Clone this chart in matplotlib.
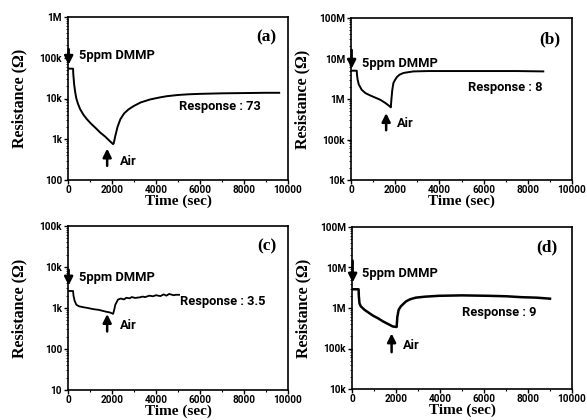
import matplotlib
matplotlib.use("Agg")
import matplotlib.pyplot as plt
from matplotlib.ticker import FixedLocator, FixedFormatter, MultipleLocator, LogLocator, NullFormatter

# ---------------- data ----------------
t_a = [0, 230, 240, 280, 330, 380, 450, 550, 700, 860, 1050, 1250, 1470, 1700, 1900, 2050,
       2080, 2150, 2250, 2380, 2550, 2750, 2980, 3300, 3740, 4200, 4500, 5000, 5500, 6000,
       7000, 8000, 9000, 9600]
r_a = [54e3, 54e3, 40e3, 22e3, 14e3, 10e3, 7.5e3, 5.5e3, 4.0e3, 3.1e3, 2.4e3, 1.9e3, 1.45e3,
       1.15e3, 900, 760, 800, 1.2e3, 2.0e3, 3.1e3, 4.3e3, 5.4e3, 6.5e3, 8.0e3, 9.5e3, 10.7e3,
       11.4e3, 12.2e3, 12.7e3, 13.0e3, 13.4e3, 13.6e3, 13.8e3, 13.8e3]

t_b = [0, 260, 270, 300, 350, 480, 650, 860, 1100, 1320, 1550, 1770, 1800, 1830, 1870, 1920,
       2000, 2080, 2200, 2380, 2600, 2830, 3500, 4500, 5500, 6500, 7500, 8700]
r_b = [5.0e6, 5.0e6, 4.0e6, 3.0e6, 2.3e6, 1.7e6, 1.4e6, 1.23e6, 1.08e6, 0.96e6, 0.8e6, 0.65e6,
       0.62e6, 1.0e6, 1.7e6, 2.5e6, 3.0e6, 3.5e6, 4.0e6, 4.4e6, 4.6e6, 4.8e6, 4.9e6, 4.9e6,
       4.9e6, 4.9e6, 4.9e6, 4.8e6]

t_c = [0, 230, 250, 300, 380, 500, 680, 900, 1140, 1400, 1740, 1900, 2050, 2100, 2150, 2270,
       2400, 2550, 2650, 2800, 2900, 3050, 3260, 3400, 3500, 3700, 3860, 4000, 4200, 4350,
       4470, 4600, 4800, 4900, 5050]
r_c = [2.6e3, 2.6e3, 2.0e3, 1.5e3, 1.2e3, 1.1e3, 1.05e3, 1.0e3, 0.94e3, 0.9e3, 0.81e3, 0.78e3,
       0.72e3, 0.9e3, 1.2e3, 1.6e3, 1.7e3, 1.62e3, 1.78e3, 1.72e3, 1.85e3, 1.76e3, 1.82e3,
       1.9e3, 1.84e3, 2.0e3, 1.93e3, 2.05e3, 1.95e3, 2.15e3, 2.0e3, 2.2e3, 2.05e3, 2.1e3, 2.1e3]

t_d = [0, 300, 310, 340, 400, 570, 750, 950, 1200, 1400, 1650, 1850, 2030, 2060, 2120, 2220,
       2450, 2650, 2900, 3300, 3950, 5000, 6200, 7000, 7700, 8400, 9000]
r_d = [2.9e6, 2.9e6, 2.0e6, 1.3e6, 1.1e6, 0.9e6, 0.77e6, 0.65e6, 0.55e6, 0.47e6, 0.40e6,
       0.35e6, 0.34e6, 0.6e6, 0.9e6, 1.1e6, 1.45e6, 1.65e6, 1.8e6, 1.9e6, 2.0e6, 2.05e6,
       2.0e6, 1.95e6, 1.85e6, 1.8e6, 1.7e6]

x_ticks = [0, 2000, 4000, 6000, 8000, 10000]
x_labels = ['0', '2000', '4000', '6000', '8000', '10000']

y_ticks_a = [1e2, 1e3, 1e4, 1e5, 1e6]
y_labels_a = ['100', '1k', '10k', '100k', '1M']
y_ticks_bd = [1e4, 1e5, 1e6, 1e7, 1e8]
y_labels_bd = ['10k', '100k', '1M', '10M', '100M']
y_ticks_c = [1e1, 1e2, 1e3, 1e4, 1e5]
y_labels_c = ['10', '100', '1k', '10k', '100k']

panel_names = ['(a)', '(b)', '(c)', '(d)']
responses = ['Response : 73', 'Response : 8', 'Response : 3.5', 'Response : 9']

# ---------------- figure ----------------
fig = plt.figure(figsize=(5.87, 4.2), dpi=100)
W, H = 587, 420

def make_ax(l, r, t, b):
    return fig.add_axes([l / W, 1 - b / H, (r - l) / W, (b - t) / H])

axes = [make_ax(68, 288, 17, 180), make_ax(351, 572, 18, 180),
        make_ax(68, 288, 226, 390), make_ax(352, 572, 227, 389)]

series = [(t_a, r_a), (t_b, r_b), (t_c, r_c), (t_d, r_d)]
yt = [(y_ticks_a, y_labels_a), (y_ticks_bd, y_labels_bd), (y_ticks_c, y_labels_c), (y_ticks_bd, y_labels_bd)]

layout = [
    ((0.048, 0.765), (0.003, 0.82, 0.69), (0.178, 0.07, 0.21), (0.237, 0.112), (0.505, 0.453), (0.90, 0.873)),
    ((0.048, 0.72), (0.003, 0.82, 0.67), (0.159, 0.29, 0.43), (0.21, 0.346), (0.53, 0.573), (0.90, 0.866)),
    ((0.05, 0.684), (0.003, 0.75, 0.62), (0.178, 0.34, 0.48), (0.236, 0.392), (0.51, 0.541), (0.904, 0.878)),
    ((0.047, 0.713), (0.003, 0.81, 0.64), (0.18, 0.21, 0.36), (0.23, 0.27), (0.50, 0.47), (0.885, 0.877)),
]

serif = 'Liberation Serif'
sans = 'Roboto'
lws = [1.4, 1.4, 1.3, 1.8]

for i, ax in enumerate(axes):
    t, r = series[i]
    ax.plot(t, r, color='black', lw=lws[i])
    ax.set_yscale('log')
    ticks, labels = yt[i]
    ax.set_ylim(ticks[0], ticks[-1])
    ax.set_xlim(0, 10000)
    ax.yaxis.set_major_locator(FixedLocator(ticks))
    ax.yaxis.set_major_formatter(FixedFormatter(labels))
    ax.yaxis.set_minor_locator(LogLocator(base=10, subs=[2, 3, 4, 5, 6, 7, 8, 9], numticks=20))
    ax.yaxis.set_minor_formatter(NullFormatter())
    ax.xaxis.set_major_locator(FixedLocator(x_ticks))
    ax.xaxis.set_major_formatter(FixedFormatter(x_labels))
    ax.xaxis.set_minor_locator(MultipleLocator(1000))
    ax.tick_params(which='major', direction='out', length=3, width=1, pad=1.2,
                   labelsize=7.2)
    ax.tick_params(axis='x', which='major', pad=0.8)
    ax.tick_params(which='minor', direction='out', length=1.5, width=0.8)
    ax.tick_params(axis='y', which='minor', length=1.2, width=0.6)
    for lab in ax.get_xticklabels() + ax.get_yticklabels():
        lab.set_fontfamily(sans)
        lab.set_fontweight('bold')
    for sp in ax.spines.values():
        sp.set_linewidth(1.2)

    ax.set_xlabel('Time (sec)', fontfamily=serif, fontweight='bold', fontsize=11)
    ax.set_ylabel('Resistance (\u03a9)', fontfamily=serif, fontweight='bold', fontsize=11.5)
    axh = axes[i].get_position().height * H
    axw = axes[i].get_position().width * W
    ax.xaxis.set_label_coords(0.5, -21.5 / axh)
    ax.xaxis.label.set_verticalalignment('center')
    ax.yaxis.set_label_coords(-49 / axw, 0.5)
    ax.yaxis.label.set_verticalalignment('center')

    (dx, dy), (ax_x, ay0, ay1), (bx, by0, by1), (atx, aty), (rx, ry), (px, py) = layout[i]
    ax.text(dx, dy, '5ppm DMMP', transform=ax.transAxes, fontfamily=sans, fontweight='bold',
            fontsize=9.3, ha='left', va='center')
    ax.annotate('', xy=(ax_x, ay1), xytext=(ax_x, ay0), xycoords='axes fraction',
                textcoords='axes fraction',
                arrowprops=dict(arrowstyle='-|>,head_length=0.5,head_width=0.25', color='black', lw=1.8),
                annotation_clip=False)
    ax.annotate('', xy=(bx, by1), xytext=(bx, by0), xycoords='axes fraction',
                textcoords='axes fraction',
                arrowprops=dict(arrowstyle='-|>,head_length=0.5,head_width=0.25', color='black', lw=1.8))
    ax.text(atx, aty, 'Air', transform=ax.transAxes, fontfamily=sans, fontweight='bold',
            fontsize=9.3, ha='left', va='center')
    ax.text(rx, ry, responses[i], transform=ax.transAxes, fontfamily=sans, fontweight='bold',
            fontsize=9.3, ha='left', va='center')
    ax.text(px, py, panel_names[i], transform=ax.transAxes, fontfamily=serif, fontweight='bold',
            fontsize=12.5, ha='center', va='center')

fig.savefig('out.png', dpi=100)
